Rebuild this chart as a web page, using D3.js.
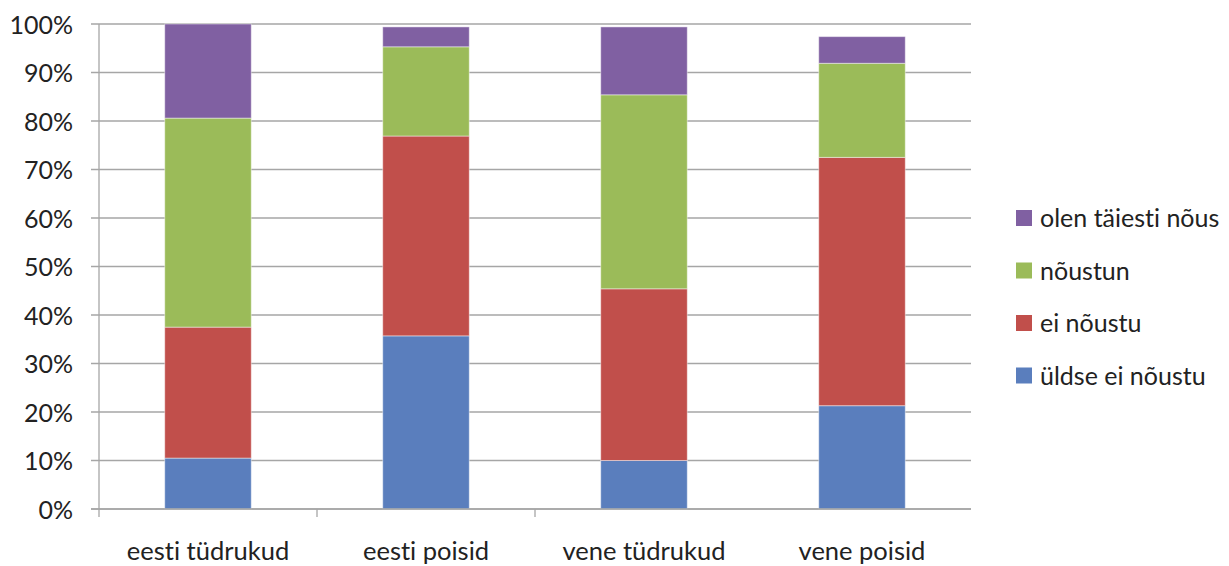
<!DOCTYPE html>
<html><head><meta charset="utf-8">
<script src="https://cdn.jsdelivr.net/npm/d3@7"></script>
<style>
body{margin:0;background:#fff;}
svg text{font-family:Lato,"Open Sans",sans-serif;fill:#222;font-variant-ligatures:none;font-feature-settings:"liga" 0;}
</style></head>
<body><svg id="c" width="1229" height="566"></svg>
<script>
const categories = ["eesti tüdrukud","eesti poisid","vene tüdrukud","vene poisid"];
const seriesNames = ["üldse ei nõustu","ei nõustu","nõustun","olen täiesti nõus"];
const uldseEiNoustu = [10.5, 35.7, 10.0, 21.3];
const eiNoustu = [27.0, 41.2, 35.4, 51.2];
const noustun = [43.1, 18.4, 40.0, 19.4];
const olenTaiestiNous = [19.4, 4.1, 14.0, 5.5];
const seriesColors = ["#5A7EBD","#C14F4B","#9BBB59","#8060A2"];
const yTickLabels = ["0%","10%","20%","30%","40%","50%","60%","70%","80%","90%","100%"];

const seriesVals = [uldseEiNoustu, eiNoustu, noustun, olenTaiestiNous];
const rows = categories.map((c,i)=>{const r={cat:c}; seriesNames.forEach((s,j)=>r[s]=seriesVals[j][i]); return r;});
const stacked = d3.stack().keys(seriesNames)(rows);

const svg = d3.select("#c");
const L=99, R=971, T=24, B=509;
const x = d3.scaleBand().domain(categories).range([L,R]).paddingInner(0.603).paddingOuter(0.3015);
const y = d3.scaleLinear().domain([0,100]).range([B,T]);

// gridlines
svg.append("g").selectAll("line").data(d3.range(0,101,10)).join("line")
  .attr("x1",L-8).attr("x2",R).attr("y1",d=>y(d)).attr("y2",d=>y(d))
  .attr("stroke","#a6a6a6").attr("stroke-width",1.3);

// bars
svg.append("g").selectAll("g").data(stacked).join("g")
  .attr("fill",(d,i)=>seriesColors[i])
  .selectAll("rect").data(d=>d).join("rect")
  .attr("x",d=>x(d.data.cat)).attr("width",x.bandwidth())
  .attr("y",d=>y(d[1])).attr("height",d=>y(d[0])-y(d[1]))
  .attr("stroke","rgba(255,255,255,0.45)").attr("stroke-width",1);

// axes lines
svg.append("line").attr("x1",L).attr("x2",L).attr("y1",T).attr("y2",B+8).attr("stroke","#a6a6a6").attr("stroke-width",1.3);
svg.append("line").attr("x1",L-8).attr("x2",R).attr("y1",B).attr("y2",B).attr("stroke","#a6a6a6").attr("stroke-width",1.3);
const yAxis = svg.append("g").attr("transform",`translate(${L},0)`)
  .call(d3.axisLeft(y).tickValues(d3.range(0,101,10)).tickFormat((d,i)=>yTickLabels[i]).tickSize(0).tickPadding(26));
yAxis.select(".domain").remove();
yAxis.selectAll("text").style("font-size","25px").attr("font-family",null).attr("dy","0.36em");

// x category ticks
svg.append("g").selectAll("line").data([1,2]).join("line")
  .attr("x1",d=>L+d*(R-L)/4).attr("x2",d=>L+d*(R-L)/4).attr("y1",B).attr("y2",B+8)
  .attr("stroke","#a6a6a6").attr("stroke-width",1.3);

const xAxis = svg.append("g").attr("transform",`translate(0,${B})`)
  .call(d3.axisBottom(x).tickSize(0).tickPadding(0));
xAxis.select(".domain").remove();
xAxis.selectAll("text").style("font-size","25.5px").attr("font-family",null).attr("y",51).attr("dy",0);

// legend
const legendOrder = [3,2,1,0];
const lg = svg.append("g");
legendOrder.forEach((si,k)=>{
  const cy = 218 + k*52.5;
  lg.append("rect").attr("x",1016).attr("y",cy-8).attr("width",16).attr("height",16).attr("fill",seriesColors[si]);
  lg.append("text").attr("x",1040).attr("y",cy).attr("dy","0.36em").style("font-size","25px").text(seriesNames[si]);
});
</script></body></html>
